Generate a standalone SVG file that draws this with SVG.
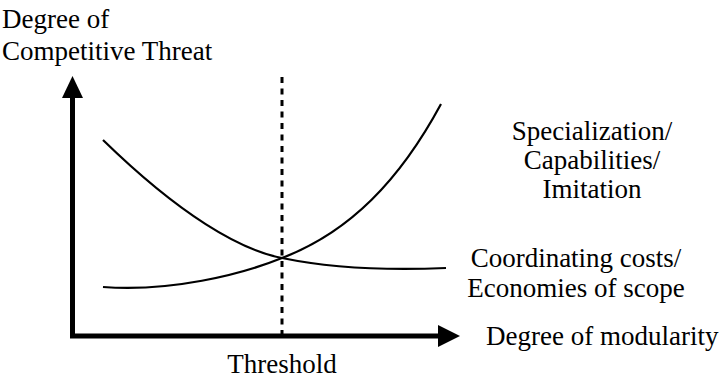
<svg xmlns="http://www.w3.org/2000/svg" width="721" height="378" viewBox="0 0 721 378">
  <defs>
    <style>
      text { font-family: 'Liberation Serif', 'Times New Roman', serif; font-size: 27px; fill: #000; }
      .mid { text-anchor: middle; }
      .axis { stroke: #000; stroke-width: 5; fill: none; }
      .curve { stroke: #000; stroke-width: 2.2; fill: none; }
      .thresh { stroke: #000; stroke-width: 3; stroke-dasharray: 6 5.5; fill: none; }
    </style>
    <marker id="head" viewBox="0 0 22 22" refX="0" refY="11" markerWidth="22" markerHeight="22" markerUnits="userSpaceOnUse" orient="auto">
      <path d="M0,0 L22,11 L0,22 Z" fill="#000"/>
    </marker>
  </defs>
  <rect width="721" height="378" fill="#fff"/>

  <g id="connectors">
    <!-- axes -->
    <polyline class="axis" points="72.5,97 72.5,336 438,336" marker-end="url(#head)"/>
    <path d="M62,98 L72.5,76 L83,98 Z" fill="#000"/>
    <!-- threshold -->
    <line class="thresh" x1="282" y1="77" x2="282" y2="334"/>
    <!-- decreasing curve -->
    <path class="curve" d="M103,140 C180,215 240,250 282,258 C340,270 400,270 446,268"/>
    <!-- increasing curve -->
    <path class="curve" d="M103,287 C170,292 240,275 282,258 C350,232 400,180 441,104"/>
  </g>

  <g id="y-label">
    <text x="2" y="28">Degree of</text>
    <text x="2" y="60">Competitive Threat</text>
  </g>
  <g id="x-label">
    <text x="486" y="345">Degree of modularity</text>
  </g>
  <g id="threshold-label">
    <text class="mid" x="282" y="373">Threshold</text>
  </g>
  <g id="specialization">
    <text class="mid" x="592" y="140">Specialization/</text>
    <text class="mid" x="592" y="169">Capabilities/</text>
    <text class="mid" x="592" y="198">Imitation</text>
  </g>
  <g id="coordinating">
    <text class="mid" x="576" y="267">Coordinating costs/</text>
    <text class="mid" x="576" y="297">Economies of scope</text>
  </g>
</svg>
